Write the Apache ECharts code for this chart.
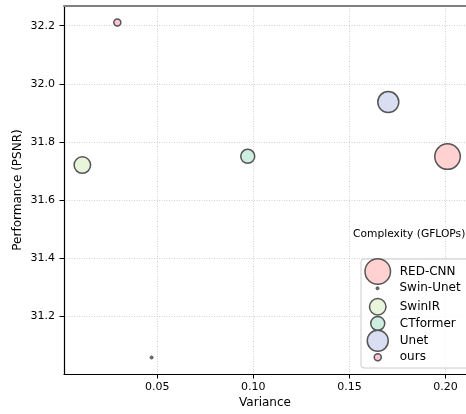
<!DOCTYPE html>
<html>
<head>
<meta charset="utf-8">
<script src="https://cdn.jsdelivr.net/npm/echarts@6/dist/echarts.min.js"></script>
<style>
html,body{margin:0;padding:0;background:#fff;}
#chart{width:466px;height:414px;}
</style>
</head>
<body>
<div id="chart"></div>
<script>
// ---- data ----
const models = ['RED-CNN', 'Swin-Unet', 'SwinIR', 'CTformer', 'Unet', 'ours'];
const variance = [0.2010, 0.0471, 0.0111, 0.0971, 0.1702, 0.0293];
const psnr = [31.749, 31.057, 31.720, 31.750, 31.937, 32.211];
// bubble size encodes complexity (GFLOPs), read as marker diameters
const complexityMarker = [25.5, 3, 16.5, 14, 21, 7];
const fillColors = ['#ffd1d1', '#6e6e6e', '#e9f5da', '#cdeee1', '#dadef2', '#f8c6d0'];
const xTitle = 'Variance';
const yTitle = 'Performance (PSNR)';
const legendTitle = 'Complexity (GFLOPs)';

// ---- layout ----
const FONT = 'DejaVu Sans';
const xMin = 0.00156, xMax = 0.2106;
const yMin = 31.0, yMax = 32.268;
const legendRows = [270.7, 288.3, 306, 322.7, 340, 357.3];
const legendIconCenterX = 377;
const legendIconBoxW = 34;
const legendLineH = 13;

const chart = echarts.init(document.getElementById('chart'), null, {renderer: 'canvas'});

const series = models.map((m, i) => ({
  name: m,
  type: 'scatter',
  data: [[variance[i], psnr[i]]],
  symbol: 'circle',
  symbolSize: complexityMarker[i],
  itemStyle: {
    color: fillColors[i],
    borderColor: '#555555',
    borderWidth: i === 1 ? 1 : 1.5,
    opacity: 1
  },
  emphasis: {disabled: true},
  z: 2
}));

const legends = models.map((m, i) => {
  const s = complexityMarker[i];
  const h = Math.max(s, legendLineH);
  return {
    data: [m],
    // the legend box is aligned to the icon's left edge
    left: legendIconCenterX - s / 2,
    top: legendRows[i] - h / 2,
    padding: 0,
    itemWidth: legendIconBoxW,
    itemHeight: s,
    itemGap: 0,
    icon: 'circle',
    selectedMode: false,
    itemStyle: {borderColor: '#555555', borderWidth: i === 1 ? 1 : 1.5},
    textStyle: {fontFamily: FONT, fontSize: 12, color: '#000', lineHeight: legendLineH},
    z: 6
  };
});

const option = {
  animation: false,
  backgroundColor: '#ffffff',
  grid: {left: 64, top: 6, right: -5, bottom: 39, containLabel: false},
  title: {
    text: legendTitle,
    left: 353,
    top: 229,
    padding: 0,
    textStyle: {fontFamily: FONT, fontSize: 10.7, fontWeight: 'normal', color: '#000'}
  },
  graphic: [{
    type: 'rect',
    shape: {x: 361, y: 259, width: 120, height: 109, r: 3},
    style: {fill: 'rgba(255,255,255,0.8)', stroke: '#cccccc', lineWidth: 1},
    z: 5
  }],
  legend: legends,
  xAxis: [{
    type: 'value',
    min: xMin,
    max: xMax,
    splitNumber: 4,
    name: xTitle,
    nameLocation: 'middle',
    nameGap: 23,
    nameMoveOverlap: false,
    nameTextStyle: {fontFamily: FONT, fontSize: 12, color: '#000'},
    axisLine: {show: true, onZero: false, lineStyle: {color: '#000', width: 1.2}},
    axisTick: {show: true, length: 4.5, lineStyle: {color: '#000', width: 1}},
    axisLabel: {
      fontFamily: FONT, fontSize: 11, color: '#000', margin: 8,
      showMinLabel: false, showMaxLabel: false,
      formatter: v => v.toFixed(2)
    },
    splitLine: {show: true, lineStyle: {color: '#c8c8c8', type: [1, 1.5], width: 0.8}}
  }, {
    type: 'value',
    position: 'top',
    min: xMin,
    max: xMax,
    axisLine: {show: true, onZero: false, lineStyle: {color: '#808080', width: 2}},
    axisTick: {show: false},
    axisLabel: {show: false},
    splitLine: {show: false}
  }],
  yAxis: {
    type: 'value',
    min: yMin,
    max: yMax,
    interval: 0.2,
    name: yTitle,
    nameLocation: 'middle',
    nameGap: 40,
    nameMoveOverlap: false,
    nameTextStyle: {fontFamily: FONT, fontSize: 12, color: '#000'},
    axisLine: {show: true, onZero: false, lineStyle: {color: '#000', width: 1.2}},
    axisTick: {show: true, length: 4.5, lineStyle: {color: '#000', width: 1}},
    axisLabel: {
      fontFamily: FONT, fontSize: 11, color: '#000', margin: 9,
      showMinLabel: false, showMaxLabel: false,
      formatter: v => v.toFixed(1)
    },
    splitLine: {show: true, lineStyle: {color: '#c8c8c8', type: [1, 1.5], width: 0.8}}
  },
  series: series
};

chart.setOption(option);
</script>
</body>
</html>
